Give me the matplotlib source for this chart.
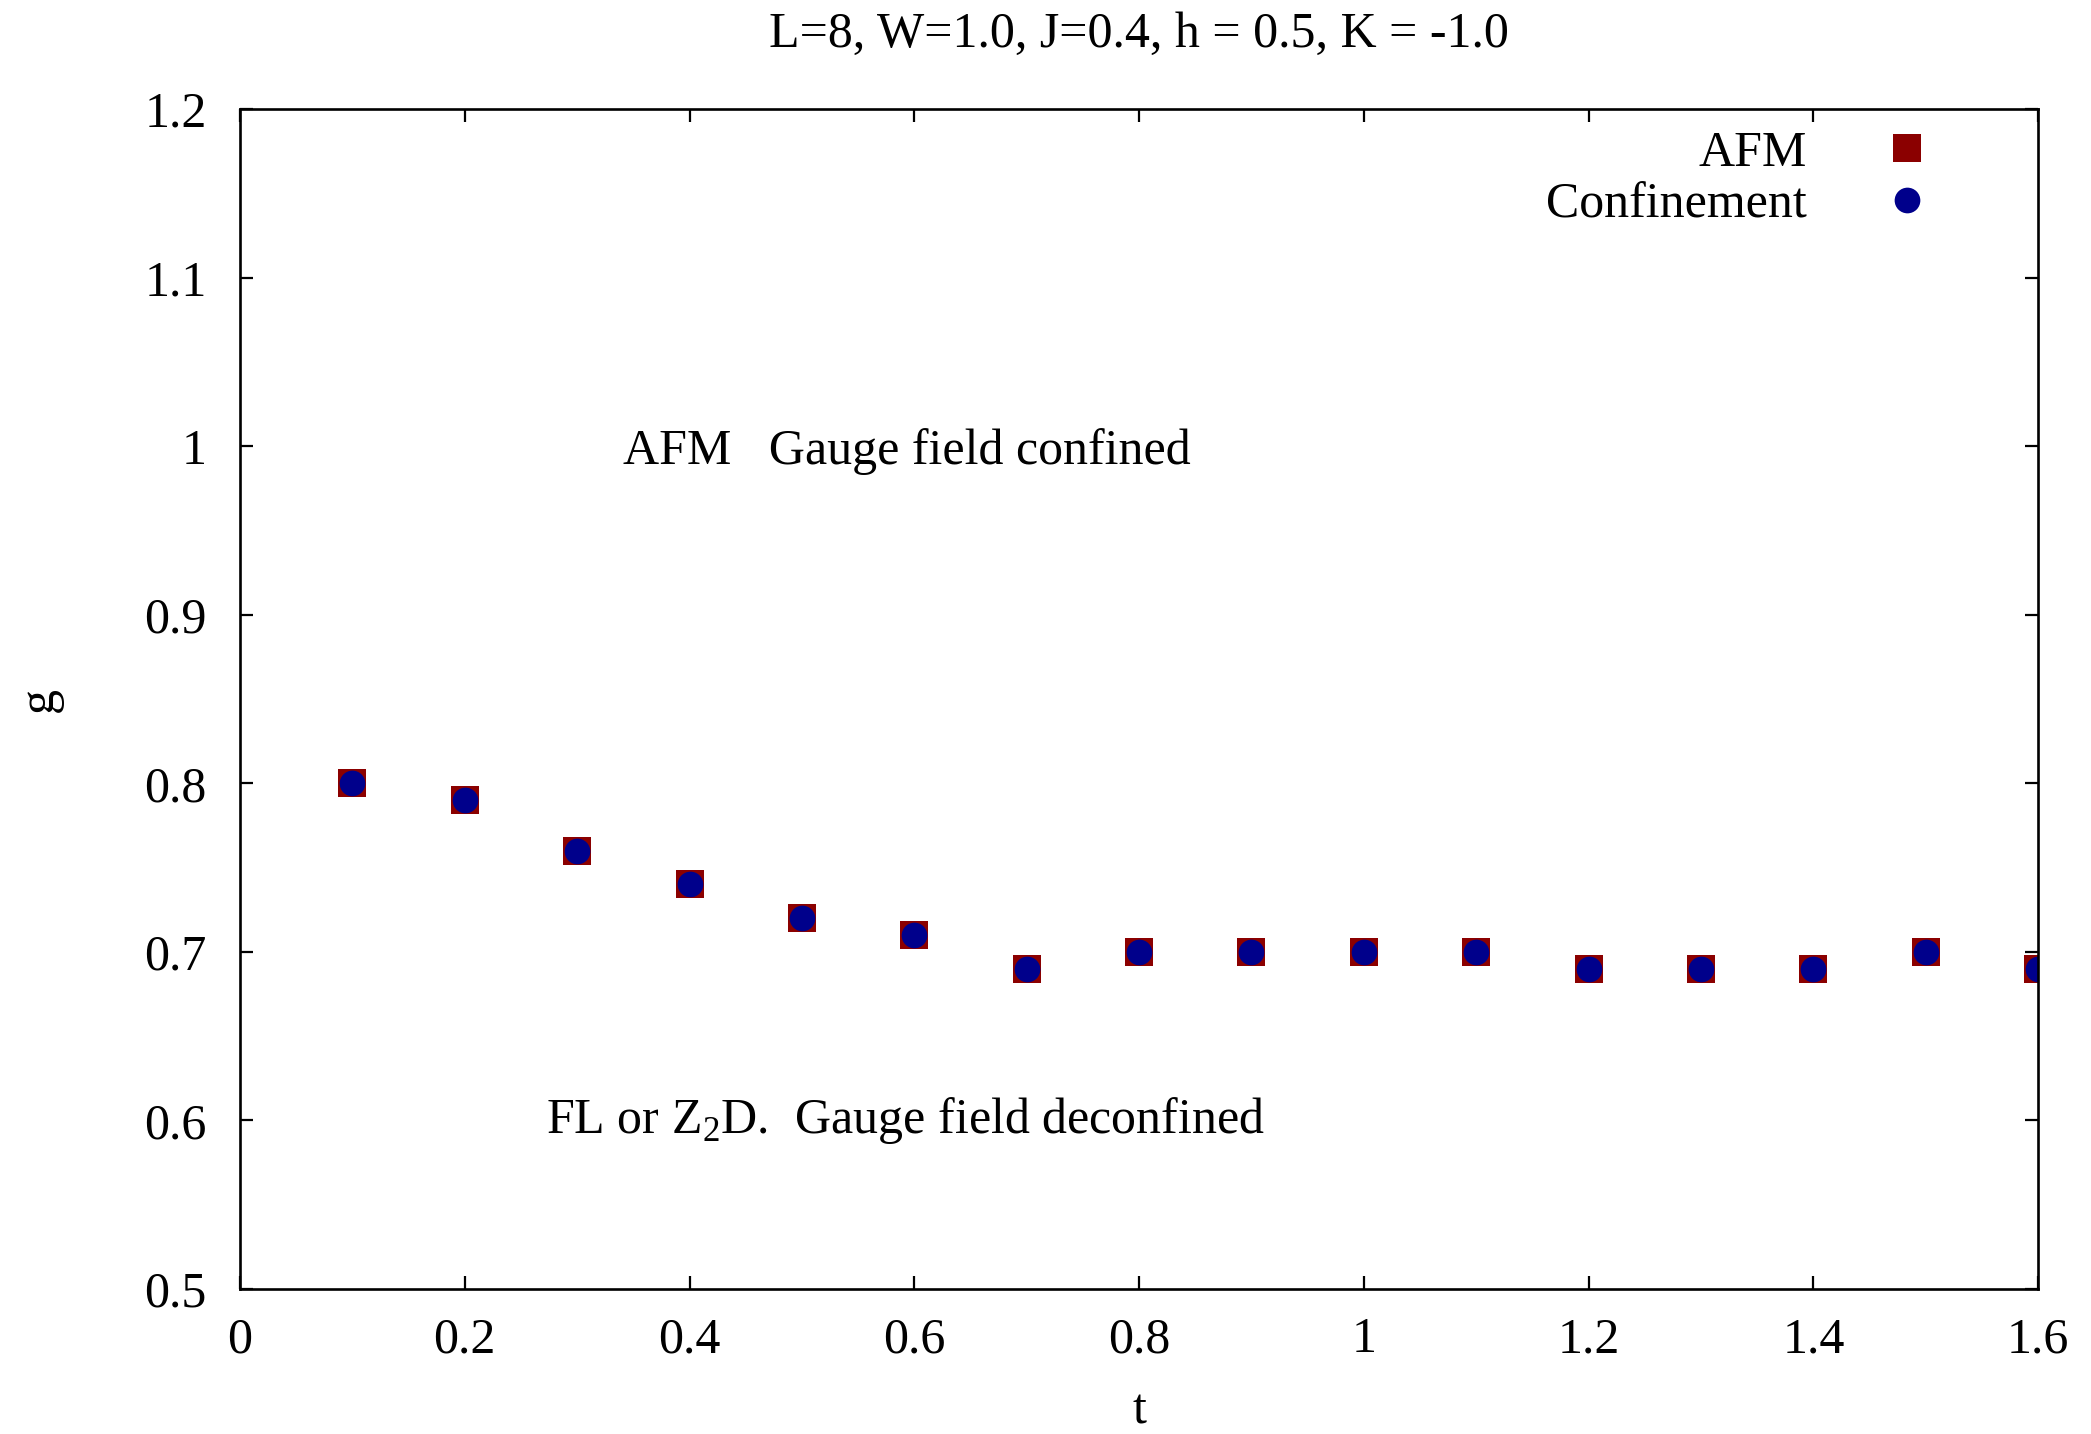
import matplotlib
matplotlib.use("Agg")
import matplotlib.pyplot as plt

# data
t = [0.1, 0.2, 0.3, 0.4, 0.5, 0.6, 0.7, 0.8, 0.9, 1.0, 1.1, 1.2, 1.3, 1.4, 1.5, 1.6]
g_afm = [0.80, 0.79, 0.76, 0.74, 0.72, 0.71, 0.69, 0.70, 0.70, 0.70, 0.70, 0.69, 0.69, 0.69, 0.70, 0.69]
g_conf = [0.80, 0.79, 0.76, 0.74, 0.72, 0.71, 0.69, 0.70, 0.70, 0.70, 0.70, 0.69, 0.69, 0.69, 0.70, 0.69]

xticks = [0, 0.2, 0.4, 0.6, 0.8, 1.0, 1.2, 1.4, 1.6]
xtick_labels = ["0", "0.2", "0.4", "0.6", "0.8", "1", "1.2", "1.4", "1.6"]
yticks = [0.5, 0.6, 0.7, 0.8, 0.9, 1.0, 1.1, 1.2]
ytick_labels = ["0.5", "0.6", "0.7", "0.8", "0.9", "1", "1.1", "1.2"]

plt.rcParams["font.family"] = ["Liberation Serif", "DejaVu Serif"]
plt.rcParams["mathtext.fontset"] = "custom"
plt.rcParams["mathtext.rm"] = "Liberation Serif"

fs = 36

fig = plt.figure(figsize=(20.91, 14.34), dpi=100)
ax = fig.add_axes([0.1148, 0.1011, 0.8599, 0.8229])

ax.plot(t, g_afm, linestyle="none", marker="s", markersize=19.5,
        color="#8b0000", markeredgewidth=0, label="AFM")
ax.plot(t, g_conf, linestyle="none", marker="o", markersize=18.5,
        color="#00008b", markeredgewidth=0, label="Confinement")

ax.set_xlim(0, 1.6)
ax.set_ylim(0.5, 1.2)
ax.set_xticks(xticks)
ax.set_xticklabels(xtick_labels)
ax.set_yticks(yticks)
ax.set_yticklabels(ytick_labels)
ax.tick_params(direction="in", length=9.5, width=1.6, labelsize=fs,
               top=True, right=True)
ax.tick_params(axis="x", pad=20)
ax.tick_params(axis="y", pad=24)
for s in ax.spines.values():
    s.set_linewidth(1.9)

ax.set_xlabel("t", fontsize=fs, labelpad=18)
ax.set_ylabel("g", fontsize=fs, labelpad=59)
ax.set_title("L=8, W=1.0, J=0.4, h = 0.5, K = -1.0", fontsize=fs, pad=45)

ax.text(0.341, 0.997, "AFM   Gauge field confined", fontsize=fs, va="center", ha="left")
ax.text(0.272, 0.6, r"FL or Z$_2$D.  Gauge field deconfined", fontsize=fs,
        va="center", ha="left")

leg = ax.legend(loc="upper right", bbox_to_anchor=(0.955, 0.999), frameon=False,
                fontsize=fs, markerfirst=False, handletextpad=1.4,
                borderaxespad=0, labelspacing=0.1, handlelength=1.2)
for txt in leg.get_texts():
    txt.set_ha("right")
    txt.set_position((0, 0))
leg._legend_box.align = "right"

fig.savefig("out.png", dpi=100)
